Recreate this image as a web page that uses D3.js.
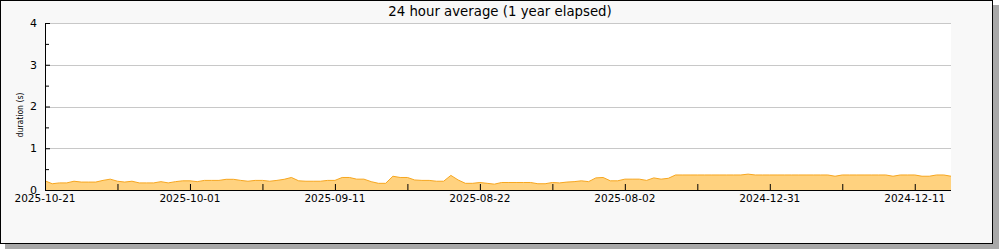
<!DOCTYPE html>
<meta charset="utf-8">
<head>
<script src="https://cdn.jsdelivr.net/npm/d3@7"></script>
<style>
body { margin: 0; background: #fff; }
svg text { font-family: "DejaVu Sans", sans-serif; fill: #000; }
</style>
</head>
<body>
<div id="chart"></div>
<script>

// one sample per day, newest first
var durations = [
  0.22, 0.15, 0.17, 0.17, 0.21, 0.19, 0.19, 0.19, 0.23, 0.26,
  0.21, 0.19, 0.21, 0.17, 0.17, 0.17, 0.20, 0.17, 0.20, 0.22,
  0.22, 0.20, 0.23, 0.23, 0.23, 0.256, 0.256, 0.23, 0.21, 0.23,
  0.23, 0.21, 0.23, 0.256, 0.30, 0.22, 0.21, 0.21, 0.21, 0.23,
  0.23, 0.30, 0.30, 0.26, 0.26, 0.20, 0.16, 0.16, 0.33, 0.30,
  0.30, 0.24, 0.23, 0.23, 0.21, 0.21, 0.35, 0.24, 0.16, 0.16,
  0.18, 0.16, 0.14, 0.18, 0.18, 0.18, 0.18, 0.18, 0.15, 0.15,
  0.18, 0.17, 0.19, 0.20, 0.22, 0.20, 0.29, 0.30, 0.22, 0.22,
  0.26, 0.26, 0.26, 0.23, 0.29, 0.26, 0.28, 0.36, 0.36, 0.36,
  0.36, 0.36, 0.36, 0.36, 0.36, 0.36, 0.36, 0.38, 0.36, 0.36,
  0.36, 0.36, 0.36, 0.36, 0.36, 0.36, 0.36, 0.36, 0.36, 0.33,
  0.36, 0.36, 0.36, 0.36, 0.36, 0.36, 0.36, 0.33, 0.36, 0.36,
  0.36, 0.33, 0.33, 0.36, 0.36, 0.33
];

// x labels every 20 samples
var tickIndex = [0, 20, 40, 60, 80, 100, 120];
var tickLabels = ["2025-10-21", "2025-10-01", "2025-09-11", "2025-08-22", "2025-08-02", "2024-12-31", "2024-12-11"];
var minorIndex = [10, 30, 50, 70, 90, 110];

var yTicks = [0, 1, 2, 3, 4];
var yMinor = [0.5, 1.5, 2.5, 3.5];

var margin = {left: 45, top: 23};
var W = 1000, H = 250;
var plotW = 906, plotH = 167;

var svg = d3.select("#chart").append("svg")
    .attr("width", W)
    .attr("height", H);

// shadow + frame
svg.append("rect")
    .attr("x", 5).attr("y", 5)
    .attr("width", 994).attr("height", 244)
    .attr("fill", "#a8a8a8");
svg.append("rect")
    .attr("x", 0.5).attr("y", 0.5)
    .attr("width", 992).attr("height", 243)
    .attr("fill", "#f8f8f8")
    .attr("stroke", "#000");

var g = svg.append("g")
    .attr("transform", "translate(" + margin.left + "," + margin.top + ")");

var x = d3.scaleLinear()
    .domain([0, durations.length - 1])
    .range([0, plotW]);
var y = d3.scaleLinear()
    .domain([0, 4])
    .range([plotH, 0]);

g.append("rect")
    .attr("width", plotW)
    .attr("height", plotH)
    .attr("fill", "#fff");

// grid
g.selectAll(".grid")
    .data(yTicks.slice(1))
    .enter().append("line")
    .attr("class", "grid")
    .attr("x1", 0).attr("x2", plotW)
    .attr("y1", function(d) { return Math.round(y(d)) + 0.5; })
    .attr("y2", function(d) { return Math.round(y(d)) + 0.5; })
    .attr("stroke", "#c8c8c8");

// data
var area = d3.area()
    .x(function(d, i) { return x(i); })
    .y0(plotH)
    .y1(function(d) { return y(d); });
var line = d3.line()
    .x(function(d, i) { return x(i); })
    .y(function(d) { return y(d); });

g.append("path")
    .datum(durations)
    .attr("d", area)
    .attr("fill", "#ffd27f");
g.append("path")
    .datum(durations)
    .attr("d", line)
    .attr("fill", "none")
    .attr("stroke", "#f7a61e")
    .attr("stroke-width", 1);

// y axis, ticks point inward
var yAxis = g.append("g")
    .call(d3.axisRight(y).tickValues(yTicks).tickSize(5).tickFormat(""));
yAxis.select(".domain").attr("d", "M0.5,0V" + plotH);
g.append("g")
    .call(d3.axisRight(y).tickValues(yMinor).tickSize(4).tickFormat(""))
    .select(".domain").remove();

g.selectAll(".ylab")
    .data(yTicks)
    .enter().append("text")
    .attr("class", "ylab")
    .attr("x", -8)
    .attr("y", function(d) { return y(d); })
    .attr("dy", "0.36em")
    .attr("text-anchor", "end")
    .style("font-size", "11px")
    .text(function(d) { return d; });

// x axis, ticks point inward
var xAxis = g.append("g")
    .attr("transform", "translate(0," + plotH + ")")
    .call(d3.axisTop(x).tickValues(tickIndex.concat(minorIndex)).tickSize(6).tickFormat(""));
xAxis.select(".domain").attr("d", "M0,0.5H" + plotW);

g.selectAll(".xlab")
    .data(tickIndex)
    .enter().append("text")
    .attr("class", "xlab")
    .attr("x", function(d) { return x(d); })
    .attr("y", plotH + 12)
    .attr("text-anchor", "middle")
    .style("font-size", "10.5px")
    .text(function(d, i) { return tickLabels[i]; });

// labels
svg.append("text")
    .attr("x", 500)
    .attr("y", 15.5)
    .attr("text-anchor", "middle")
    .style("font-size", "13.3px")
    .text("24 hour average (1 year elapsed)");

svg.append("text")
    .attr("transform", "translate(23,115) rotate(-90)")
    .attr("text-anchor", "middle")
    .attr("textLength", 45)
    .attr("lengthAdjust", "spacingAndGlyphs")
    .style("font-size", "9.5px")
    .text("duration (s)");

</script>
</body>
